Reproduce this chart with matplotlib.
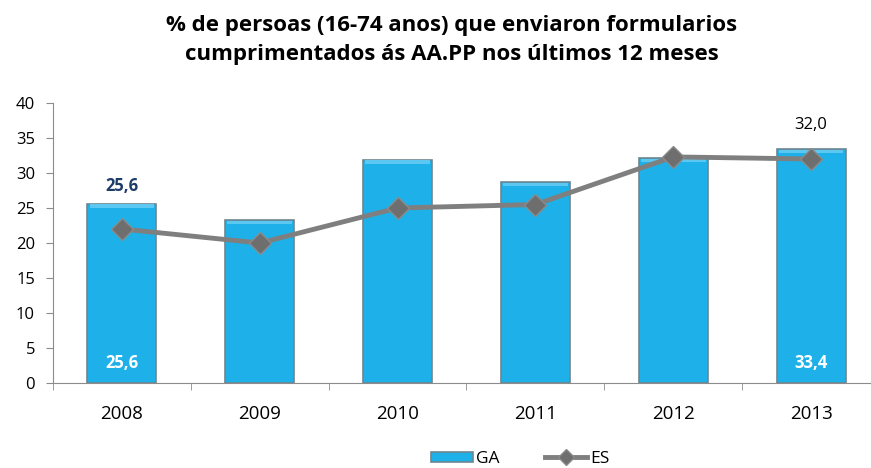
import matplotlib.pyplot as plt
import numpy as np

plt.rcParams['font.family'] = ['Open Sans', 'DejaVu Sans']

anos = ['2008', '2009', '2010', '2011', '2012', '2013']
ga = [25.6, 23.3, 31.9, 28.7, 32.1, 33.4]
es = [22.0, 20.0, 25.0, 25.5, 32.3, 32.0]

fig = plt.figure(figsize=(8.71, 4.68), dpi=100)
ax = fig.add_axes([53 / 871, 1 - 383 / 468, 827 / 871, 280 / 468])

x = np.arange(len(anos))

# barras GA
ax.bar(x, ga, width=0.5, color='#1eb0e8', edgecolor='#6f858f', linewidth=1.2, zorder=2, label='GA')
# bisel superior das barras
ax.bar(x, [0.45] * len(x), bottom=np.array(ga) - 0.55, width=0.47, color='#5cc8f2', linewidth=0, zorder=3)

# liña ES
ax.plot(x, es, color='#7f7f7f', linewidth=3.5, marker='D', markersize=11,
        markerfacecolor='#6e6e6e', markeredgecolor='#8a8a8a', markeredgewidth=1, zorder=4, label='ES')

# etiquetas de valores
ax.text(x[0], ga[0] + 2.5, '25,6', ha='center', va='center', fontsize=12, fontweight='bold', color='#1f3d6b')
ax.text(x[0], 2.9, '25,6', ha='center', va='center', fontsize=12, fontweight='bold', color='white', zorder=5)
ax.text(x[5], 2.9, '33,4', ha='center', va='center', fontsize=12, fontweight='bold', color='white', zorder=5)
ax.text(x[5], es[5] + 4.9, '32,0', ha='center', va='center', fontsize=12, color='black')

ax.set_xlim(-0.5, 5.5)
ax.set_ylim(0, 40)
ax.set_yticks(range(0, 41, 5))
ax.set_xticks(x)
ax.set_xticklabels(anos, fontsize=13.5)
ax.set_xticks(np.arange(-0.5, 5.6, 1), minor=True)
ax.tick_params(axis='x', which='major', length=0, pad=16)
ax.tick_params(axis='x', which='minor', length=5, color='#8c8c8c', direction='out')
ax.tick_params(axis='y', labelsize=12, length=5, color='#8c8c8c', direction='out', pad=8)

for side in ['top', 'right']:
    ax.spines[side].set_visible(False)
ax.spines['left'].set_color('#8c8c8c')
ax.spines['bottom'].set_color('#8c8c8c')

fig.text(0.519, 1 - 40 / 468,
         '% de persoas (16-74 anos) que enviaron formularios\ncumprimentados ás AA.PP nos últimos 12 meses',
         ha='center', va='center', fontsize=16, fontweight='bold', linespacing=1.55)

handles, labels = ax.get_legend_handles_labels()
ax.legend(handles[::-1], labels[::-1], loc='center', bbox_to_anchor=(0.565, (383 - 459) / 280), ncol=2,
          frameon=False, fontsize=12.5, handlelength=2.4, handleheight=0.5, handletextpad=0.2,
          columnspacing=2.6, borderpad=0.1, markerscale=0.75)

fig.savefig('out.png', dpi=100)
